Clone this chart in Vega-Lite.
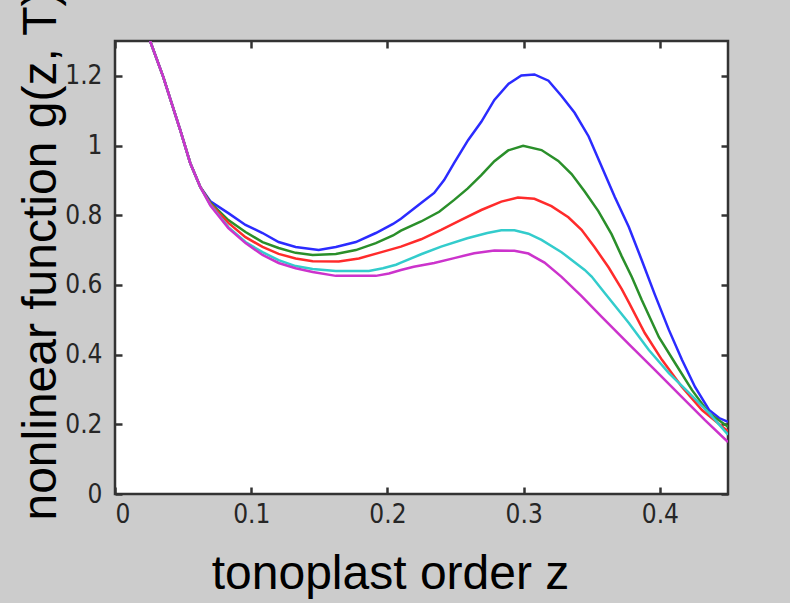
{
  "$schema": "https://vega.github.io/schema/vega-lite/v6.json",
  "width": 613,
  "height": 453,
  "autosize": {"type": "none"},
  "padding": {"left": 115, "top": 41, "right": 62, "bottom": 109},
  "background": "#cccccc",
  "config": {
    "view": {"fill": "white", "stroke": "#333333", "strokeWidth": 2.5},
    "axis": {
      "grid": false,
      "domain": false,
      "offset": -7,
      "tickColor": "#333333",
      "tickWidth": 2.5,
      "tickSize": 7,
      "labelFont": "Liberation Sans Narrow, DejaVu Sans Condensed, Liberation Sans",
      "labelFontSize": 26,
      "labelColor": "#262626",
      "titleFont": "Liberation Sans",
      "titleFontSize": 48,
      "titleFontWeight": "normal",
      "titleColor": "#000000"
    }
  },
  "data": {
    "values": [
      {"series": "1", "z": 0.0258, "g": 1.300}, {"series": "1", "z": 0.0354, "g": 1.197}, {"series": "1", "z": 0.0479, "g": 1.044}, {"series": "1", "z": 0.0552, "g": 0.950}, {"series": "1", "z": 0.0626, "g": 0.881},
      {"series": "1", "z": 0.070, "g": 0.840}, {"series": "1", "z": 0.0832, "g": 0.806}, {"series": "1", "z": 0.0958, "g": 0.772}, {"series": "1", "z": 0.1083, "g": 0.749}, {"series": "1", "z": 0.1201, "g": 0.723}, {"series": "1", "z": 0.1326, "g": 0.709}, {"series": "1", "z": 0.1495, "g": 0.700}, {"series": "1", "z": 0.1621, "g": 0.709}, {"series": "1", "z": 0.1768, "g": 0.723}, {"series": "1", "z": 0.1915, "g": 0.749}, {"series": "1", "z": 0.2041, "g": 0.775}, {"series": "1", "z": 0.2099, "g": 0.790}, {"series": "1", "z": 0.2247, "g": 0.835}, {"series": "1", "z": 0.2343, "g": 0.864}, {"series": "1", "z": 0.2416, "g": 0.901}, {"series": "1", "z": 0.2490, "g": 0.950}, {"series": "1", "z": 0.2593, "g": 1.016}, {"series": "1", "z": 0.2689, "g": 1.068}, {"series": "1", "z": 0.2785, "g": 1.131}, {"series": "1", "z": 0.2888, "g": 1.177}, {"series": "1", "z": 0.2983, "g": 1.201}, {"series": "1", "z": 0.3079, "g": 1.204}, {"series": "1", "z": 0.3182, "g": 1.186}, {"series": "1", "z": 0.3278, "g": 1.142}, {"series": "1", "z": 0.3374, "g": 1.094}, {"series": "1", "z": 0.3477, "g": 1.026}, {"series": "1", "z": 0.3573, "g": 0.939}, {"series": "1", "z": 0.3669, "g": 0.852}, {"series": "1", "z": 0.3772, "g": 0.766}, {"series": "1", "z": 0.3867, "g": 0.671}, {"series": "1", "z": 0.3963, "g": 0.572}, {"series": "1", "z": 0.4066, "g": 0.471}, {"series": "1", "z": 0.4162, "g": 0.385}, {"series": "1", "z": 0.4258, "g": 0.307}, {"series": "1", "z": 0.4361, "g": 0.241}, {"series": "1", "z": 0.4435, "g": 0.218}, {"series": "1", "z": 0.4500, "g": 0.207},

      {"series": "2", "z": 0.0258, "g": 1.300}, {"series": "2", "z": 0.0354, "g": 1.197}, {"series": "2", "z": 0.0479, "g": 1.044}, {"series": "2", "z": 0.0552, "g": 0.950}, {"series": "2", "z": 0.0626, "g": 0.881},
      {"series": "2", "z": 0.070, "g": 0.836}, {"series": "2", "z": 0.0832, "g": 0.786}, {"series": "2", "z": 0.0958, "g": 0.752}, {"series": "2", "z": 0.1083, "g": 0.723}, {"series": "2", "z": 0.1201, "g": 0.706}, {"series": "2", "z": 0.1326, "g": 0.692}, {"series": "2", "z": 0.1451, "g": 0.686}, {"series": "2", "z": 0.1621, "g": 0.689}, {"series": "2", "z": 0.1768, "g": 0.700}, {"series": "2", "z": 0.1915, "g": 0.720}, {"series": "2", "z": 0.2041, "g": 0.742}, {"series": "2", "z": 0.2099, "g": 0.756}, {"series": "2", "z": 0.2247, "g": 0.782}, {"series": "2", "z": 0.2380, "g": 0.810}, {"series": "2", "z": 0.2490, "g": 0.844}, {"series": "2", "z": 0.2590, "g": 0.877}, {"series": "2", "z": 0.2689, "g": 0.915}, {"series": "2", "z": 0.2785, "g": 0.955}, {"series": "2", "z": 0.2886, "g": 0.986}, {"series": "2", "z": 0.2996, "g": 0.999}, {"series": "2", "z": 0.3131, "g": 0.987}, {"series": "2", "z": 0.3254, "g": 0.956}, {"series": "2", "z": 0.3352, "g": 0.918}, {"series": "2", "z": 0.3448, "g": 0.868}, {"series": "2", "z": 0.3548, "g": 0.812}, {"series": "2", "z": 0.3646, "g": 0.745}, {"series": "2", "z": 0.3720, "g": 0.682}, {"series": "2", "z": 0.3794, "g": 0.623}, {"series": "2", "z": 0.3867, "g": 0.557}, {"series": "2", "z": 0.3993, "g": 0.450}, {"series": "2", "z": 0.4111, "g": 0.376}, {"series": "2", "z": 0.4236, "g": 0.298}, {"series": "2", "z": 0.4361, "g": 0.232}, {"series": "2", "z": 0.4500, "g": 0.193},

      {"series": "3", "z": 0.0258, "g": 1.300}, {"series": "3", "z": 0.0354, "g": 1.197}, {"series": "3", "z": 0.0479, "g": 1.044}, {"series": "3", "z": 0.0552, "g": 0.950}, {"series": "3", "z": 0.0626, "g": 0.881},
      {"series": "3", "z": 0.070, "g": 0.833}, {"series": "3", "z": 0.0832, "g": 0.778}, {"series": "3", "z": 0.0958, "g": 0.737}, {"series": "3", "z": 0.1083, "g": 0.709}, {"series": "3", "z": 0.1201, "g": 0.689}, {"series": "3", "z": 0.1326, "g": 0.676}, {"series": "3", "z": 0.1451, "g": 0.668}, {"series": "3", "z": 0.1643, "g": 0.667}, {"series": "3", "z": 0.1790, "g": 0.676}, {"series": "3", "z": 0.1937, "g": 0.692}, {"series": "3", "z": 0.2099, "g": 0.710}, {"series": "3", "z": 0.2247, "g": 0.731}, {"series": "3", "z": 0.2394, "g": 0.758}, {"series": "3", "z": 0.2541, "g": 0.787}, {"series": "3", "z": 0.2689, "g": 0.815}, {"series": "3", "z": 0.2836, "g": 0.839}, {"series": "3", "z": 0.2958, "g": 0.851}, {"series": "3", "z": 0.3079, "g": 0.847}, {"series": "3", "z": 0.3204, "g": 0.826}, {"series": "3", "z": 0.3328, "g": 0.794}, {"series": "3", "z": 0.3425, "g": 0.758}, {"series": "3", "z": 0.3521, "g": 0.708}, {"series": "3", "z": 0.3624, "g": 0.650}, {"series": "3", "z": 0.3720, "g": 0.588}, {"series": "3", "z": 0.3772, "g": 0.550}, {"series": "3", "z": 0.3889, "g": 0.462}, {"series": "3", "z": 0.4015, "g": 0.385}, {"series": "3", "z": 0.4162, "g": 0.307}, {"series": "3", "z": 0.4309, "g": 0.241}, {"series": "3", "z": 0.4500, "g": 0.180},

      {"series": "4", "z": 0.0258, "g": 1.300}, {"series": "4", "z": 0.0354, "g": 1.197}, {"series": "4", "z": 0.0479, "g": 1.044}, {"series": "4", "z": 0.0552, "g": 0.950}, {"series": "4", "z": 0.0626, "g": 0.881},
      {"series": "4", "z": 0.070, "g": 0.830}, {"series": "4", "z": 0.0832, "g": 0.766}, {"series": "4", "z": 0.0958, "g": 0.723}, {"series": "4", "z": 0.1083, "g": 0.694}, {"series": "4", "z": 0.1201, "g": 0.671}, {"series": "4", "z": 0.1326, "g": 0.654}, {"series": "4", "z": 0.1451, "g": 0.646}, {"series": "4", "z": 0.1621, "g": 0.640}, {"series": "4", "z": 0.1864, "g": 0.640}, {"series": "4", "z": 0.1967, "g": 0.648}, {"series": "4", "z": 0.2063, "g": 0.658}, {"series": "4", "z": 0.2099, "g": 0.664}, {"series": "4", "z": 0.2247, "g": 0.688}, {"series": "4", "z": 0.2394, "g": 0.710}, {"series": "4", "z": 0.2586, "g": 0.734}, {"series": "4", "z": 0.2733, "g": 0.749}, {"series": "4", "z": 0.2836, "g": 0.757}, {"series": "4", "z": 0.2932, "g": 0.757}, {"series": "4", "z": 0.3035, "g": 0.747}, {"series": "4", "z": 0.3131, "g": 0.729}, {"series": "4", "z": 0.3278, "g": 0.694}, {"series": "4", "z": 0.3374, "g": 0.665}, {"series": "4", "z": 0.3448, "g": 0.643}, {"series": "4", "z": 0.3499, "g": 0.624}, {"series": "4", "z": 0.3595, "g": 0.577}, {"series": "4", "z": 0.3772, "g": 0.491}, {"series": "4", "z": 0.3919, "g": 0.413}, {"series": "4", "z": 0.4066, "g": 0.347}, {"series": "4", "z": 0.4214, "g": 0.290}, {"series": "4", "z": 0.4361, "g": 0.232}, {"series": "4", "z": 0.4500, "g": 0.170},

      {"series": "5", "z": 0.0258, "g": 1.300}, {"series": "5", "z": 0.0354, "g": 1.197}, {"series": "5", "z": 0.0479, "g": 1.044}, {"series": "5", "z": 0.0552, "g": 0.950}, {"series": "5", "z": 0.0626, "g": 0.881},
      {"series": "5", "z": 0.070, "g": 0.828}, {"series": "5", "z": 0.0832, "g": 0.763}, {"series": "5", "z": 0.0958, "g": 0.720}, {"series": "5", "z": 0.1083, "g": 0.686}, {"series": "5", "z": 0.1201, "g": 0.663}, {"series": "5", "z": 0.1326, "g": 0.648}, {"series": "5", "z": 0.1451, "g": 0.637}, {"series": "5", "z": 0.1621, "g": 0.626}, {"series": "5", "z": 0.1915, "g": 0.626}, {"series": "5", "z": 0.2011, "g": 0.633}, {"series": "5", "z": 0.2099, "g": 0.643}, {"series": "5", "z": 0.2193, "g": 0.652}, {"series": "5", "z": 0.2343, "g": 0.663}, {"series": "5", "z": 0.2490, "g": 0.677}, {"series": "5", "z": 0.2637, "g": 0.691}, {"series": "5", "z": 0.2785, "g": 0.699}, {"series": "5", "z": 0.2932, "g": 0.698}, {"series": "5", "z": 0.3035, "g": 0.690}, {"series": "5", "z": 0.3153, "g": 0.664}, {"series": "5", "z": 0.3278, "g": 0.623}, {"series": "5", "z": 0.3425, "g": 0.568}, {"series": "5", "z": 0.3573, "g": 0.508}, {"series": "5", "z": 0.3772, "g": 0.430}, {"series": "5", "z": 0.3963, "g": 0.356}, {"series": "5", "z": 0.4162, "g": 0.278}, {"series": "5", "z": 0.4331, "g": 0.212}, {"series": "5", "z": 0.4500, "g": 0.149}
    ]
  },
  "layer": [
    {
      "mark": {"type": "line", "strokeWidth": 2.5, "clip": true},
      "encoding": {
        "x": {
          "field": "z", "type": "quantitative",
          "scale": {"domain": [0, 0.45], "nice": false, "zero": false},
          "axis": {
            "orient": "bottom",
            "values": [0, 0.1, 0.2, 0.3, 0.4],
            "format": "~g",
            "labelPadding": 7,
            "title": "tonoplast order z",
            "titleX": 275,
            "titleY": 101,
            "titleBaseline": "alphabetic"
          }
        },
        "y": {
          "field": "g", "type": "quantitative",
          "scale": {"domain": [0, 1.3], "nice": false, "zero": false},
          "axis": {
            "orient": "left",
            "values": [0, 0.2, 0.4, 0.6, 0.8, 1, 1.2],
            "format": "~g",
            "labelPadding": 13,
            "title": "nonlinear function g(z, T)",
            "titleX": -67,
            "titleY": 214,
            "titleAngle": -90,
            "titleBaseline": "alphabetic"
          }
        },
        "color": {
          "field": "series", "type": "nominal",
          "scale": {"domain": ["1", "2", "3", "4", "5"], "range": ["#2b2bff", "#2a8f2a", "#ff2b2b", "#33cccc", "#cc33cc"]},
          "legend": null
        }
      }
    },
    {
      "mark": {"type": "line", "opacity": 0},
      "encoding": {
        "x": {
          "field": "z", "type": "quantitative",
          "scale": {"domain": [0, 0.45], "nice": false, "zero": false},
          "axis": {"orient": "top", "values": [0, 0.1, 0.2, 0.3, 0.4], "labels": false, "title": null}
        },
        "y": {
          "field": "g", "type": "quantitative",
          "scale": {"domain": [0, 1.3], "nice": false, "zero": false},
          "axis": {"orient": "right", "values": [0, 0.2, 0.4, 0.6, 0.8, 1, 1.2], "labels": false, "title": null}
        },
        "detail": {"field": "series"}
      }
    }
  ],
  "resolve": {"axis": {"x": "independent", "y": "independent"}}
}
